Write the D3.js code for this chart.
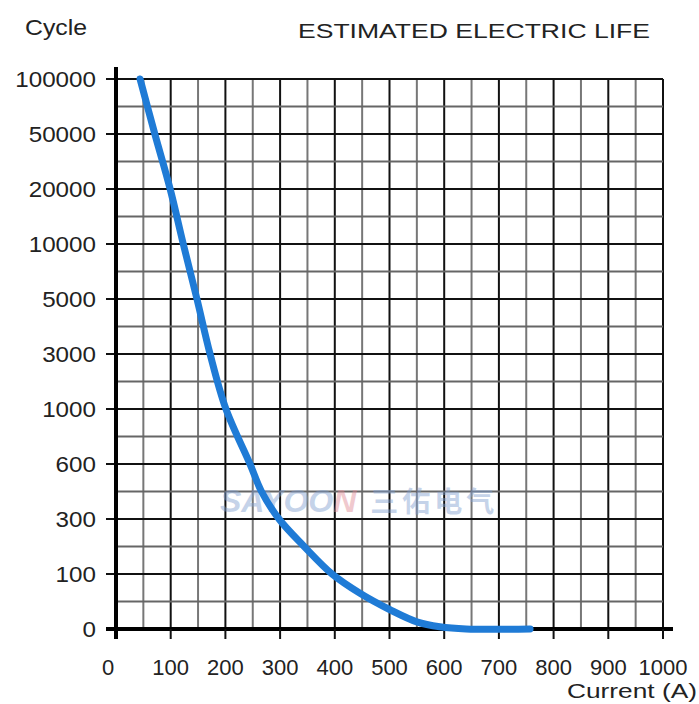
<!DOCTYPE html>
<html>
<head>
<meta charset="utf-8">
<script src="https://cdn.jsdelivr.net/npm/d3@7"></script>
<style>
  body { margin: 0; background: #fff; }
  text { font-family: "Liberation Sans", Arial, sans-serif; fill: #222; }
</style>
</head>
<body>
<div id="container"></div>
<script>
/* DATA */
const cycleLevels = [0, 100, 300, 600, 1000, 3000, 5000, 10000, 20000, 50000, 100000];
const currentTicks = [0, 100, 200, 300, 400, 500, 600, 700, 800, 900, 1000];
const current = [44, 71, 99, 123, 148, 172, 201, 245, 266, 298, 344, 395, 446, 501, 550, 592, 640, 757];
const cycles = [100000, 50000, 20000, 10000, 5000, 3000, 1000, 600, 450, 300, 200, 100, 65, 35, 13, 4, 0, 0];

/* CONSTANTS */
const width = 699, height = 704,
  margin = { top: 79, bottom: 75, left: 116, right: 36 };

const svg = d3.select("#container")
  .append("svg")
  .attr("width", width)
  .attr("height", height);

// x: linear current, y: evenly spaced cycle levels (piecewise linear)
const x = d3.scaleLinear()
  .domain([0, 1000])
  .range([margin.left, width - margin.right]);

const step = (height - margin.bottom - margin.top) / (cycleLevels.length - 1);
const y = d3.scaleLinear()
  .domain(cycleLevels)
  .range(cycleLevels.map((d, i) => height - margin.bottom - i * step));

// GRID
const grid = svg.append("g");

// vertical lines every 50, dark on the hundreds
grid.selectAll("line.v")
  .data(d3.range(50, 1001, 50))
  .join("line")
  .attr("x1", d => x(d)).attr("x2", d => x(d))
  .attr("y1", y(100000)).attr("y2", y(0))
  .attr("stroke", d => d % 100 === 0 ? "#111" : "#777")
  .attr("stroke-width", 2);

// horizontal half-step lines
const mids = cycleLevels.slice(1).map((d, i) => (y(d) + y(cycleLevels[i])) / 2);
grid.selectAll("line.hm")
  .data(mids)
  .join("line")
  .attr("x1", x(0)).attr("x2", x(1000))
  .attr("y1", d => d).attr("y2", d => d)
  .attr("stroke", "#666")
  .attr("stroke-width", 2);

grid.selectAll("line.h")
  .data(cycleLevels.slice(1))
  .join("line")
  .attr("x1", x(0) - 10).attr("x2", x(1000))
  .attr("y1", d => y(d)).attr("y2", d => y(d))
  .attr("stroke", "#111")
  .attr("stroke-width", 2);

// WATERMARK
const wm = svg.append("text")
  .attr("x", 220)
  .attr("y", 512)
  .attr("font-size", 32)
  .attr("font-weight", "bold")
  .attr("font-style", "italic")
  .attr("opacity", 0.45)
  .style("fill", "#7f9fd0");
wm.append("tspan").text("SAYOO");
wm.append("tspan").style("fill", "#e08a94").text("N");
wm.append("tspan").attr("dx", 14).attr("font-style", "normal").attr("font-size", 28)
  .attr("letter-spacing", 4)
  .style("font-family", "'Noto Sans CJK SC'").text("三佑电气");

// AXES
svg.append("line")
  .attr("x1", x(0)).attr("x2", x(0))
  .attr("y1", y(100000) - 12).attr("y2", y(0) + 10)
  .attr("stroke", "#000").attr("stroke-width", 4);

svg.append("line")
  .attr("x1", x(0) - 10).attr("x2", x(1000) + 10)
  .attr("y1", y(0)).attr("y2", y(0))
  .attr("stroke", "#000").attr("stroke-width", 4);

svg.selectAll("line.xt")
  .data(currentTicks.slice(1))
  .join("line")
  .attr("x1", d => x(d)).attr("x2", d => x(d))
  .attr("y1", y(0)).attr("y2", y(0) + 10)
  .attr("stroke", "#111").attr("stroke-width", 2);

svg.selectAll("text.yl")
  .data(cycleLevels)
  .join("text")
  .attr("x", 96)
  .attr("y", d => y(d) + 8)
  .attr("text-anchor", "end")
  .attr("font-size", 22)
  .text(d => d)
  .each(function () {
    const len = this.getComputedTextLength();
    d3.select(this).attr("textLength", len * 1.1).attr("lengthAdjust", "spacingAndGlyphs");
  });

svg.selectAll("text.xl")
  .data(currentTicks)
  .join("text")
  .attr("x", d => x(d) + (d === 0 ? -8 : 0))
  .attr("y", 675)
  .attr("text-anchor", "middle")
  .attr("font-size", 22)
  .text(d => d);

svg.append("text").attr("x", 567).attr("y", 698)
  .attr("font-size", 20).attr("textLength", 130).attr("lengthAdjust", "spacingAndGlyphs")
  .text("Current (A)");
svg.append("text").attr("x", 25).attr("y", 35)
  .attr("font-size", 22).attr("textLength", 62).attr("lengthAdjust", "spacingAndGlyphs")
  .text("Cycle");
svg.append("text").attr("x", 298).attr("y", 38)
  .attr("font-size", 20).attr("textLength", 352).attr("lengthAdjust", "spacingAndGlyphs")
  .text("ESTIMATED ELECTRIC LIFE");

// CURVE
const line = d3.line()
  .x(d => x(d[0]))
  .y(d => y(d[1]))
  .curve(d3.curveCatmullRom.alpha(0.5));

svg.append("path")
  .datum(d3.zip(current, cycles))
  .attr("d", line)
  .attr("fill", "none")
  .attr("stroke", "#1f7bd6")
  .attr("stroke-width", 7)
  .attr("stroke-linecap", "round");
</script>
</body>
</html>
